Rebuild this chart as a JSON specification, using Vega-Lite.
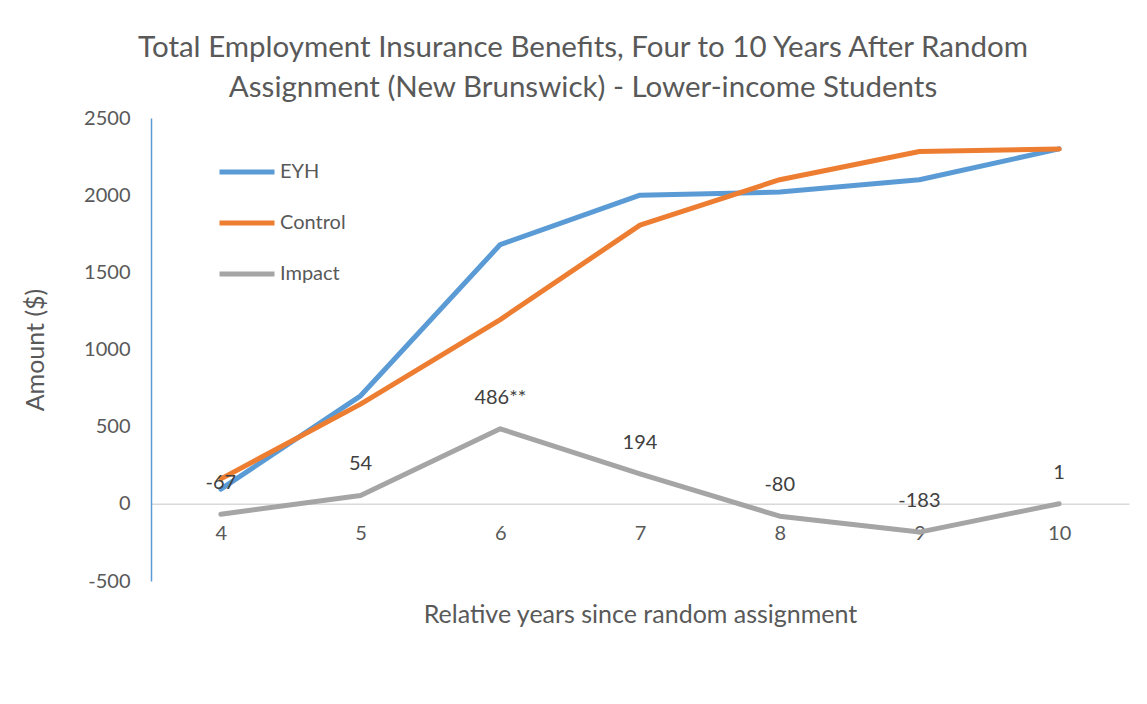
{
  "$schema": "https://vega.github.io/schema/vega-lite/v6.json",
  "autosize": "none",
  "width": 978,
  "height": 463,
  "padding": {"left": 151, "top": 118, "right": 18, "bottom": 123},
  "background": "white",
  "config": {
    "font": "Lato",
    "view": {"stroke": null},
    "axis": {"grid": false, "ticks": false, "labelColor": "#595959", "titleColor": "#595959", "labelFontSize": 20, "titleFontSize": 25, "labelFont": "Lato", "titleFont": "Lato", "titleFontWeight": "normal"}
  },
  "title": {
    "text": ["Total Employment Insurance Benefits, Four to 10 Years After Random", "Assignment (New Brunswick) - Lower-income Students"],
    "fontSize": 29.5,
    "font": "Lato",
    "fontWeight": "normal",
    "color": "#595959",
    "anchor": "middle",
    "dx": -57,
    "offset": 5,
    "lineHeight": 40
  },
  "data": {
    "values": [
      {"year": "4", "series": "Impact", "value": -67, "label": "-67"},
      {"year": "5", "series": "Impact", "value": 54, "label": "54"},
      {"year": "6", "series": "Impact", "value": 486, "label": "486**"},
      {"year": "7", "series": "Impact", "value": 194, "label": "194"},
      {"year": "8", "series": "Impact", "value": -80, "label": "-80"},
      {"year": "9", "series": "Impact", "value": -183, "label": "-183"},
      {"year": "10", "series": "Impact", "value": 1, "label": "1"},
      {"year": "4", "series": "EYH", "value": 95, "label": ""},
      {"year": "5", "series": "EYH", "value": 700, "label": ""},
      {"year": "6", "series": "EYH", "value": 1680, "label": ""},
      {"year": "7", "series": "EYH", "value": 2000, "label": ""},
      {"year": "8", "series": "EYH", "value": 2020, "label": ""},
      {"year": "9", "series": "EYH", "value": 2100, "label": ""},
      {"year": "10", "series": "EYH", "value": 2300, "label": ""},
      {"year": "4", "series": "Control", "value": 162, "label": ""},
      {"year": "5", "series": "Control", "value": 646, "label": ""},
      {"year": "6", "series": "Control", "value": 1194, "label": ""},
      {"year": "7", "series": "Control", "value": 1806, "label": ""},
      {"year": "8", "series": "Control", "value": 2100, "label": ""},
      {"year": "9", "series": "Control", "value": 2283, "label": ""},
      {"year": "10", "series": "Control", "value": 2299, "label": ""}
    ]
  },
  "encoding": {
    "x": {
      "field": "year",
      "type": "ordinal",
      "sort": null,
      "scale": {"type": "point", "padding": 0.5},
      "axis": {
        "title": "Relative years since random assignment",
        "labelAngle": 0,
        "offset": -77.17,
        "domainColor": "#D9D9D9",
        "domainWidth": 1.5,
        "labelPadding": 20,
        "titleY": 111,
        "titleBaseline": "middle"
      }
    },
    "y": {
      "field": "value",
      "type": "quantitative",
      "scale": {"domain": [-500, 2500], "nice": false, "zero": false},
      "axis": {
        "title": "Amount ($)",
        "values": [-500, 0, 500, 1000, 1500, 2000, 2500],
        "labelExpr": "'' + datum.value",
        "domainColor": "#5B9BD5",
        "domainWidth": 1.5,
        "labelPadding": 21,
        "titlePadding": 35
      }
    }
  },
  "layer": [
    {
      "mark": {"type": "line", "strokeWidth": 5, "strokeCap": "round", "strokeJoin": "round"},
      "encoding": {
        "color": {
          "field": "series",
          "type": "nominal",
          "scale": {"domain": ["EYH", "Control", "Impact"], "range": ["#5B9BD5", "#ED7D31", "#A5A5A5"]},
          "legend": {
            "title": null,
            "orient": "none",
            "legendX": 66,
            "legendY": 24,
            "symbolType": "stroke",
            "symbolSize": 3025,
            "symbolStrokeWidth": 5,
            "labelFontSize": 20,
            "labelColor": "#595959",
            "labelFont": "Lato",
            "labelOffset": 3,
            "rowPadding": 11
          }
        }
      }
    },
    {
      "transform": [{"filter": "datum.series === 'Impact'"}],
      "mark": {"type": "text", "dy": -31, "fontSize": 20, "color": "#404040", "font": "Lato"},
      "encoding": {"text": {"field": "label"}}
    }
  ]
}
